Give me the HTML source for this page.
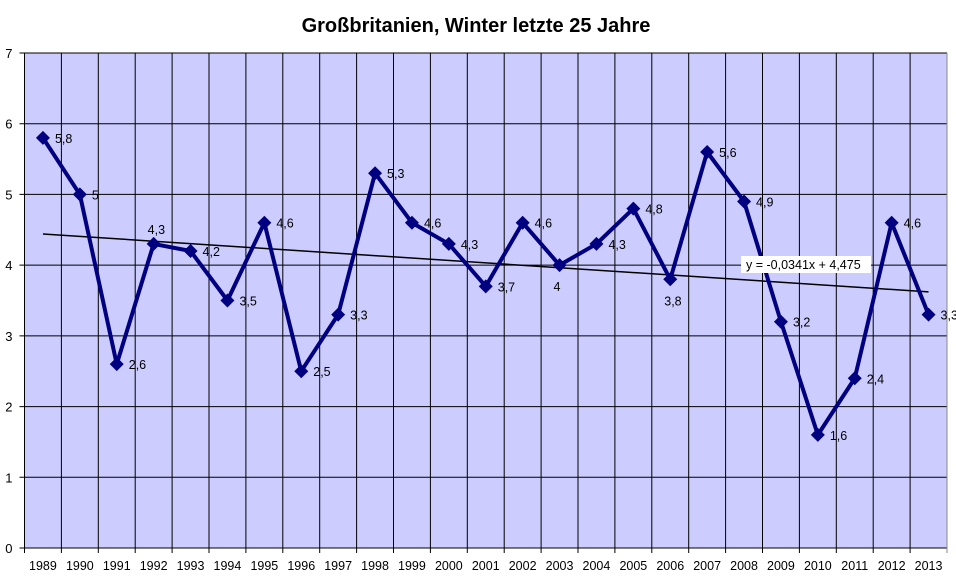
<!DOCTYPE html>
<html><head><meta charset="utf-8"><style>
body{margin:0;background:#fff;font-family:"Liberation Sans",Arial,sans-serif}
svg text{font-family:"Liberation Sans",Arial,sans-serif}
</style></head><body>
<svg id="c" width="956" height="581">
<text x="476" y="32" text-anchor="middle" font-size="20" font-weight="bold">Großbritanien, Winter letzte 25 Jahre</text>
<g id="g"></g>
</svg>
<script>
const years=[1989,1990,1991,1992,1993,1994,1995,1996,1997,1998,1999,2000,2001,2002,2003,2004,2005,2006,2007,2008,2009,2010,2011,2012,2013];
const values=[5.8,5,2.6,4.3,4.2,3.5,4.6,2.5,3.3,5.3,4.6,4.3,3.7,4.6,4,4.3,4.8,3.8,5.6,4.9,3.2,1.6,2.4,4.6,3.3];
const labels=["5,8","5","2,6","4,3","4,2","3,5","4,6","2,5","3,3","5,3","4,6","4,3","3,7","4,6","4","4,3","4,8","3,8","5,6","4,9","3,2","1,6","2,4","4,6","3,3"];
const yTicks=[0,1,2,3,4,5,6,7];
const slope=-0.0341, intercept=4.475;
const NS="http://www.w3.org/2000/svg";
const L=24.5,R=947,T=53,B=548,yMax=7;
const cw=(R-L)/years.length;
const X=i=>L+cw*(i+0.5);
const Y=v=>B-(v/yMax)*(B-T);
const g=document.getElementById('g');
function mk(t,a){const e=document.createElementNS(NS,t);for(const k in a)e.setAttribute(k,a[k]);g.appendChild(e);return e;}
let bg=mk('rect',{x:L,y:T,width:R-L,height:B-T,fill:'#ccccff'});


yTicks.forEach(t=>{
 let l=mk('line',{x1:L-5,x2:R,y1:Y(t),y2:Y(t),stroke:'#000','stroke-width':1});
 
 
 let tx=mk('text',{x:L-12,y:Y(t)+5,'font-size':13,'text-anchor':'end'});
 tx.textContent=t;
 
 
});
for(let i=0;i<=years.length;i++){
 let x=L+cw*i;
 let l=mk('line',{x1:x,x2:x,y1:T,y2:B+5,stroke:i==years.length?'#888':'#000','stroke-width':1});
 
 
}
years.forEach((yr,i)=>{
 let tx=mk('text',{x:X(i),y:B+22,'font-size':12.5,'text-anchor':'middle'});
 tx.textContent=yr;
 
 
});
let tl=mk('line',{x1:X(0),y1:Y(intercept+slope*1),x2:X(years.length-1),y2:Y(intercept+slope*years.length),stroke:'#000','stroke-width':1.5});


let pl=mk('polyline',{points:values.map((v,i)=>X(i)+','+Y(v)).join(' '),fill:'none',stroke:'#000080','stroke-width':4,'stroke-linejoin':'round'});


const below={14:1,17:1};
const above={3:1};
values.forEach((v,i)=>{
 const x=X(i),y=Y(v),s=7;
 let m=mk('polygon',{points:`${x},${y-s} ${x+s},${y} ${x},${y+s} ${x-s},${y}`,fill:'#000080'});
 
 
 let tx=below[i]?mk('text',{x:x-6,y:y+26,'font-size':12.5}):above[i]?mk('text',{x:x-6,y:y-10,'font-size':12.5}):mk('text',{x:x+12,y:y+5,'font-size':12.5});
 tx.textContent=labels[i];
 
 
});
let eb=mk('rect',{x:741,y:256,width:130,height:17,fill:'#fff'});


let et=mk('text',{x:746,y:269,'font-size':12.5});
et.textContent='y = -0,0341x + 4,475';


</script>
</body></html>
